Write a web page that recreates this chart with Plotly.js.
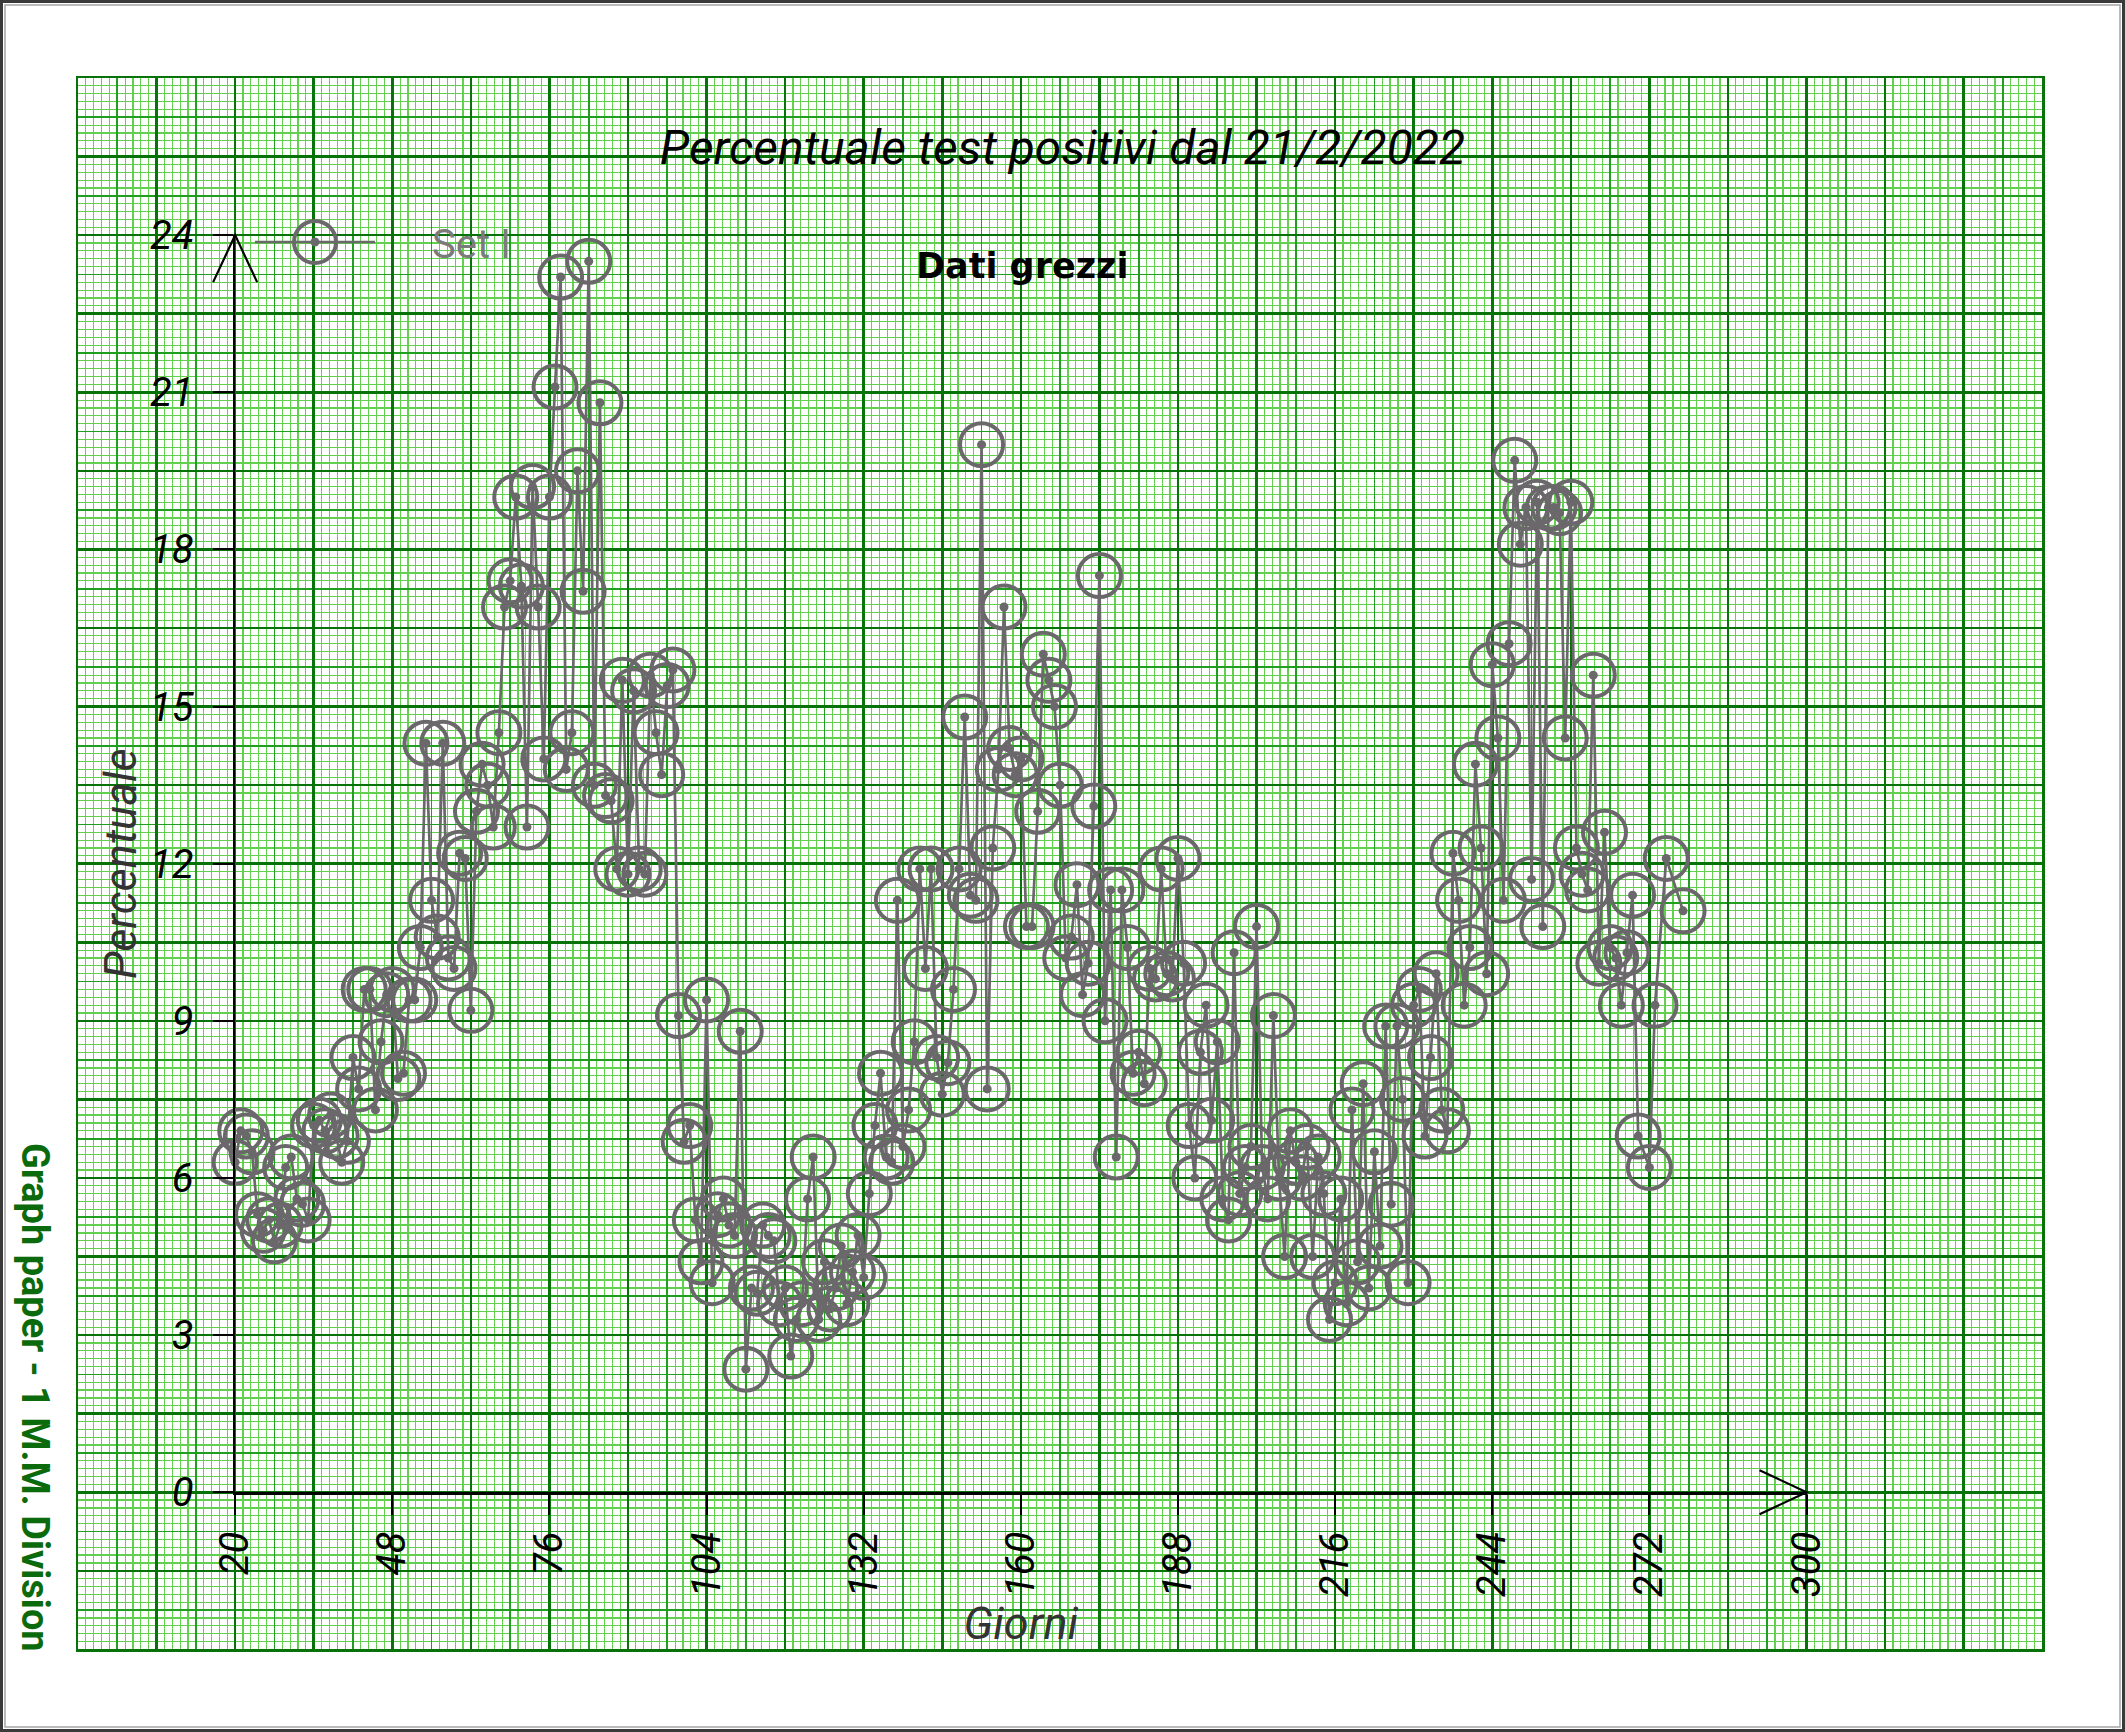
<!DOCTYPE html>
<html>
<head>
<meta charset="utf-8">
<script src="https://cdn.plot.ly/plotly-3.0.1.min.js"></script>
<style>html,body{margin:0;padding:0;background:#fff;overflow:hidden}</style>
</head>
<body>
<div id="chart" style="width:2125px;height:1732px"></div>
<script>
// ---------------- DATA ----------------
const startDay = 20;                       // first day of the series
// Percentuale test positivi, one value per day from day 20 (null = no reading)
const percentuale = [
  // 20-29
  6.3, 6.9, 6.8, 6.5, 5.3, 5.0, 5.2, 4.8, 5.1, 6.2,
  // 30-39
  6.4, 5.6, 5.5, 5.2, 7.0, 7.1, 6.9, 7.2, 6.8, 6.3,
  // 40-49
  6.7, 8.3, 7.7, 9.6, 9.6, 7.3, 8.6, 9.5, 9.6, 7.9,
  // 50-59
  8.0, 9.4, 9.4, 10.4, 14.3, 11.3, 10.6, 14.3, 10.2, 10.0,
  // 60-69
  12.2, 12.1, 9.2, 13.0, 13.9, 13.5, 12.7, 14.5, 16.9, 17.4,
  // 70-79
  19.0, 17.3, 12.7, 19.2, 16.9, 14.0, 19.0, 21.1, 23.2, 13.8,
  // 80-89
  14.5, 19.5, 17.2, 23.5, 13.5, 20.8, 13.3, 13.2, 11.9, 15.5,
  // 90-99
  11.8, 15.3, 11.9, 11.8, 15.6, 14.5, 13.7, 15.4, 15.7, 9.1,
  // 100-109
  6.7, 7.0, 5.2, 4.4, 9.4, 4.0, 5.3, 5.6, 5.1, 4.9,
  // 110-119
  8.8, 2.35, 3.9, 3.8, 5.1, 4.9, 4.8, 3.6, 3.9, 2.6,
  // 120-129
  3.3, 3.6, 5.6, 6.4, 3.3, 4.4, 3.5, 3.9, 4.7, 3.6,
  // 130-139
  4.2, 4.9, 4.1, 5.7, 7.0, 8.0, 6.4, 6.3, 11.3, 6.6,
  // 140-149
  7.3, 8.6, 11.9, 10.0, 11.9, 8.3, 7.6, 8.2, 9.6, 11.9,
  // 150-159
  14.8, 11.4, 11.3, 20.0, 7.7, 12.3, 13.8, 16.9, 14.2, 13.7,
  // 160-169
  14.0, 10.8, 10.8, 13.0, 16.0, 15.5, 15.0, 13.5, 10.2, 10.6,
  // 170-179
  11.6, 9.5, 10.1, 13.1, 17.5, 9.0, 11.5, 6.4, 11.5, 10.4,
  // 180-189
  8.0, 8.4, 7.8, 10.0, 9.8, 11.9, 9.9, 9.8, 12.1, 10.1,
  // 190-199
  7.0, 6.0, 8.4, 9.3, 7.1, 8.6, 5.6, 5.2, 10.3, 5.7,
  // 200-209
  6.2, 6.6, 10.8, 6.2, 5.6, 9.1, 6.0, 4.5, 6.9, 6.3,
  // 210-219
  6.0, 6.6, 4.5, 6.4, 5.7, 3.3, 4.0, 5.6, 3.6, 7.3,
  // 220-229
  4.4, 7.8, 3.9, 6.5, 4.7, 8.9, 5.5, 8.9, 7.5, 4.0,
  // 230-239
  9.3, 9.6, 6.8, 8.3, 9.9, 7.3, 6.9, 12.2, 11.3, 9.3,
  // 240-249
  10.4, 13.9, 12.3, 9.9, 15.8, 14.4, 11.3, 16.2, 19.7, 18.1,
  // 250-259
  18.8, 11.7, 18.9, 10.8, 18.8, 18.8, 18.7, 14.4, 18.9, 12.3,
  // 260-269
  11.8, 11.5, 15.6, 10.1, 12.6, 10.4, 10.2, 9.3, 10.3, 11.4,
  // 270-278
  6.8, null, 6.2, 9.3, null, 12.1, null, null, 11.1
];
const giorni = percentuale.map((_, i) => startDay + i);

const xRange = [20, 300];
const xTickStep = 28;
const yRange = [0, 24];
const yTickStep = 3;

const seriesName = 'Set I';
const chartTitle = 'Percentuale test positivi dal 21/2/2022';
const subTitle = 'Dati grezzi';
const xTitle = 'Giorni';
const yTitle = 'Percentuale';
const paperLabel = 'Graph paper - 1 M.M. Division';

// ---------------- GEOMETRY / STYLE ----------------
const W = 2125, H = 1732;
const MM = 7.857;               // pixels per millimetre of the graph paper
const PX0 = 78, PY0 = 78;       // top-left corner of the graph paper
const PAPER_W_MM = 250, PAPER_H_MM = 200;
const fx = px => px / W;
const fy = py => 1 - py / H;

const FONT = 'Roboto, "Liberation Sans", Arial, sans-serif';
const GRAY = '#6b686b';
const FINE = '#62d04e';
const MED = '#1f9e1f';
const DARK = '#077207';

const gridBase = {
  showticklabels: false, ticks: '', zeroline: false, fixedrange: true,
  showgrid: true
};

const data = [
  { type: 'scatter', x: [], y: [], xaxis: 'x', yaxis: 'y', showlegend: false, hoverinfo: 'skip' },
  { type: 'scatter', x: [], y: [], xaxis: 'x2', yaxis: 'y2', showlegend: false, hoverinfo: 'skip' },
  {
    type: 'scatter', mode: 'lines+markers', name: seriesName,
    x: giorni, y: percentuale, xaxis: 'x3', yaxis: 'y3',
    connectgaps: true, cliponaxis: false,
    line: { color: GRAY, width: 2.7 },
    marker: { symbol: 'circle-open-dot', size: 43, color: GRAY, line: { color: GRAY, width: 4 } }
  },
  {
    type: 'scatter', mode: 'markers', x: giorni, y: percentuale, xaxis: 'x3', yaxis: 'y3',
    showlegend: false, hoverinfo: 'skip', cliponaxis: false,
    marker: { symbol: 'circle', size: 9, color: GRAY }
  }
];

const layout = {
  width: W, height: H, autosize: false,
  margin: { l: 0, r: 0, t: 0, b: 0, pad: 0 },
  paper_bgcolor: '#ffffff',
  plot_bgcolor: 'rgba(0,0,0,0)',
  font: { family: FONT, color: '#000' },
  title: {
    text: chartTitle, x: 0.5, xanchor: 'center', y: fy(147), yanchor: 'middle',
    font: { family: FONT, size: 48, style: 'italic', color: '#000' }
  },
  // graph paper: 5 mm and 1 mm lines
  xaxis: Object.assign({}, gridBase, {
    domain: [fx(PX0), fx(PX0 + PAPER_W_MM * MM)], range: [0, PAPER_W_MM], anchor: 'y',
    tick0: 0, dtick: 5, gridcolor: MED, gridwidth: 1.8,
    minor: { tick0: 0, dtick: 1, showgrid: true, gridcolor: FINE, gridwidth: 1.25, ticks: '' }
  }),
  yaxis: Object.assign({}, gridBase, {
    domain: [fy(PY0 + PAPER_H_MM * MM), fy(PY0)], range: [0, PAPER_H_MM], anchor: 'x',
    tick0: 0, dtick: 5, gridcolor: MED, gridwidth: 1.8,
    minor: { tick0: 0, dtick: 1, showgrid: true, gridcolor: FINE, gridwidth: 1.25, ticks: '' }
  }),
  // graph paper: 10 mm lines and border
  xaxis2: Object.assign({}, gridBase, {
    overlaying: 'x', anchor: 'y2', range: [0, PAPER_W_MM],
    tick0: 0, dtick: 10, gridcolor: DARK, gridwidth: 2.5,
    showline: true, mirror: true, linecolor: DARK, linewidth: 2.5
  }),
  yaxis2: Object.assign({}, gridBase, {
    overlaying: 'y', anchor: 'x2', range: [0, PAPER_H_MM],
    tick0: 0, dtick: 10, gridcolor: DARK, gridwidth: 2.5,
    showline: true, mirror: true, linecolor: DARK, linewidth: 2.5
  }),
  // data axes
  xaxis3: {
    domain: [fx(PX0 + 20 * MM), fx(PX0 + 220 * MM)], anchor: 'y3', range: xRange,
    tickmode: 'linear', tick0: xRange[0], dtick: xTickStep,
    showgrid: false, zeroline: false, fixedrange: true,
    showline: true, linecolor: '#000', linewidth: 2.5,
    ticks: 'outside', ticklen: 20, tickwidth: 2, tickcolor: '#000',
    tickangle: -90, ticklabelstandoff: 1,
    tickfont: { family: FONT, size: 40, style: 'italic', color: '#000' },
    title: { text: xTitle, standoff: 0, font: { family: FONT, size: 45, style: 'italic', color: '#333' } }
  },
  yaxis3: {
    domain: [fy(PY0 + 180 * MM), fy(PY0 + 20 * MM)], anchor: 'x3', range: yRange,
    tickmode: 'linear', tick0: yRange[0], dtick: yTickStep,
    showgrid: false, zeroline: false, fixedrange: true,
    showline: true, linecolor: '#000', linewidth: 2.5,
    ticks: 'outside', ticklen: 20, tickwidth: 2, tickcolor: '#000',
    ticklabelstandoff: 11,
    tickfont: { family: FONT, size: 40, style: 'italic', color: '#000' },
    title: { text: yTitle, standoff: 0, font: { family: FONT, size: 45, style: 'italic', color: '#333' } }
  },
  showlegend: true,
  legend: {
    x: fx(250), y: fy(242), xanchor: 'left', yanchor: 'middle',
    bgcolor: 'rgba(0,0,0,0)', borderwidth: 0, itemwidth: 120,
    font: { family: FONT, size: 40, color: '#7b7b7b' }
  },
  annotations: [
    {
      text: subTitle, xref: 'paper', yref: 'paper', x: fx(1022), y: fy(266),
      xanchor: 'center', yanchor: 'middle', showarrow: false,
      font: { family: '"DejaVu Sans", sans-serif', size: 35, weight: 'bold', color: '#000' }
    },
    {
      text: paperLabel, xref: 'paper', yref: 'paper', x: fx(35), y: fy(1397),
      xanchor: 'center', yanchor: 'middle', showarrow: false, textangle: 90,
      font: { family: FONT, size: 38, weight: 'bold', color: '#0b6a0b' }
    }
  ],
  shapes: [
    // page frame
    { type: 'rect', xref: 'paper', yref: 'paper', x0: 0, x1: 1, y0: 0, y1: 1,
      line: { color: '#3a3a3a', width: 6 }, layer: 'above' },
    { type: 'rect', xref: 'paper', yref: 'paper', x0: fx(5), x1: fx(W - 5), y0: fy(H - 5), y1: fy(5),
      line: { color: '#a5a5a5', width: 1.5 }, layer: 'above' },
    // arrow heads at the ends of the axes
    { type: 'path', xref: 'x3 domain', yref: 'y3 domain', xsizemode: 'pixel', ysizemode: 'pixel',
      xanchor: 1, yanchor: 0, path: 'M-47,22L0,0L-47,-22', line: { color: '#000', width: 2.2 }, layer: 'above' },
    { type: 'path', xref: 'x3 domain', yref: 'y3 domain', xsizemode: 'pixel', ysizemode: 'pixel',
      xanchor: 0, yanchor: 1, path: 'M-22,-47L0,0L22,-47', line: { color: '#000', width: 2.2 }, layer: 'above' }
  ],
  hovermode: false
};

Plotly.newPlot('chart', data, layout, { staticPlot: true, displayModeBar: false, responsive: false })
  .then(gd => {
    // enlarge the legend symbol to the size of the plotted markers
    gd.querySelectorAll('.legend path.scatterpts').forEach(p => {
      const r = 21, d = 2.5;
      p.setAttribute('d',
        'M' + r + ',0A' + r + ',' + r + ' 0 1,1 0,-' + r + 'A' + r + ',' + r + ' 0 0,1 ' + r + ',0Z' +
        'M' + d + ',0A' + d + ',' + d + ' 0 1,1 0,-' + d + 'A' + d + ',' + d + ' 0 0,1 ' + d + ',0Z');
      p.style.strokeWidth = '4px';
    });
    gd.querySelectorAll('.legend .scrollbox').forEach(s => s.removeAttribute('clip-path'));
    gd.querySelectorAll('.legend text.legendtext').forEach(t => {
      const x0 = parseFloat(t.getAttribute('x') || '0');
      t.setAttribute('x', x0 + 52);
    });
  });
</script>
</body>
</html>
